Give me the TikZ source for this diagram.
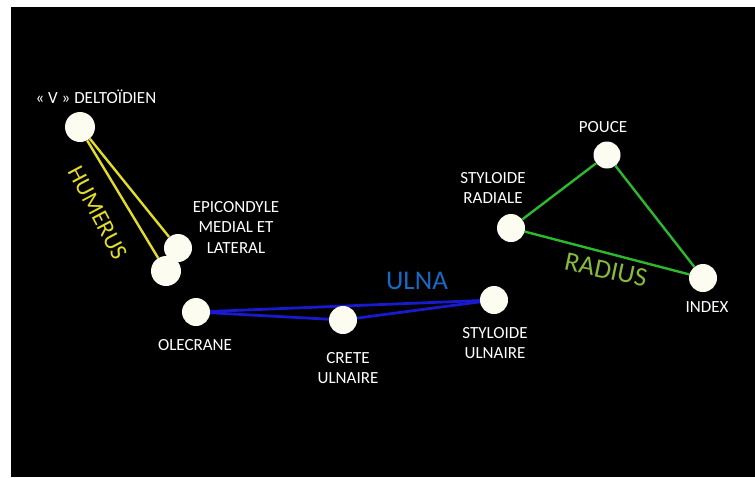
\documentclass[tikz,border=0pt]{standalone}
\usepackage{fontspec}
\setmainfont{Carlito}
\usetikzlibrary{backgrounds}
\definecolor{bonewhite}{RGB}{252,252,240}
\definecolor{humyellow}{RGB}{225,220,40}
\definecolor{ulnablue}{RGB}{25,25,205}
\definecolor{ulnatext}{RGB}{25,105,195}
\definecolor{radgreen}{RGB}{45,185,45}
\definecolor{radtext}{RGB}{135,185,60}
\tikzset{
  marker/.style={circle,fill=bonewhite,inner sep=0pt,minimum size=28pt},
  lbl/.style={text=white,font=\fontsize{17}{20.5}\selectfont,align=center,inner sep=0pt},
  bonename/.style={inner sep=0pt,font=\fontsize{27}{30}\selectfont},
  humline/.style={draw=humyellow,line width=2.4pt},
  ulnline/.style={draw=ulnablue,line width=2.8pt},
  radline/.style={draw=radgreen,line width=2.4pt}
}
\begin{document}
\begin{tikzpicture}[x=1pt,y=-1pt]
\useasboundingbox (0,0) rectangle (755,477);
% markers
\node[marker,minimum size=30pt] (delt) at (80,127) {};
\node[marker] (epiu) at (178,248) {};
\node[marker,minimum size=30pt] (epil) at (166,271) {};
\node[marker] (olec) at (196,312) {};
\node[marker] (crete) at (343,320) {};
\node[marker] (stu) at (494,300) {};
\node[marker] (str) at (511,228) {};
\node[marker,minimum size=27pt] (pouce) at (607,155) {};
\node[marker] (index) at (703,278) {};
% background and connectors
\begin{scope}[on background layer]
\fill[white] (0,0) rectangle (755,477);
\fill[black] (11,7) rectangle (755,477);
\draw[humline] (delt.-50) -- (epiu);
\draw[humline] (delt.-62) -- (epil);
\draw[ulnline] (olec) -- (stu);
\draw[ulnline] (olec) -- (crete);
\draw[ulnline] (crete) -- (stu);
\draw[radline] (str) -- (pouce);
\draw[radline] (pouce) -- (index);
\draw[radline] (str) -- (index);
\end{scope}
% labels
\node[lbl] (tdelt) at (96,97) {« V » DELTOÏDIEN};
\node[lbl] (tepi) at (236,227) {EPICONDYLE\\MEDIAL ET\\LATERAL};
\node[lbl] (tolec) at (195,345) {OLECRANE};
\node[lbl] (tcrete) at (348,368) {CRETE\\ULNAIRE};
\node[lbl] (tstu) at (495,343) {STYLOIDE\\ULNAIRE};
\node[lbl] (tstr) at (493,188) {STYLOIDE\\RADIALE};
\node[lbl] (tpouce) at (603,127) {POUCE};
\node[lbl] (tindex) at (707,307) {INDEX};
\node[bonename,text=humyellow,rotate=-62,font=\fontsize{24}{26}\selectfont] (thum) at (98,213) {HUMERUS};
\node[bonename,text=ulnatext] (tulna) at (417,281) {ULNA};
\node[bonename,text=radtext,rotate=-12] (trad) at (606,270) {RADIUS};
\end{tikzpicture}
\end{document}
